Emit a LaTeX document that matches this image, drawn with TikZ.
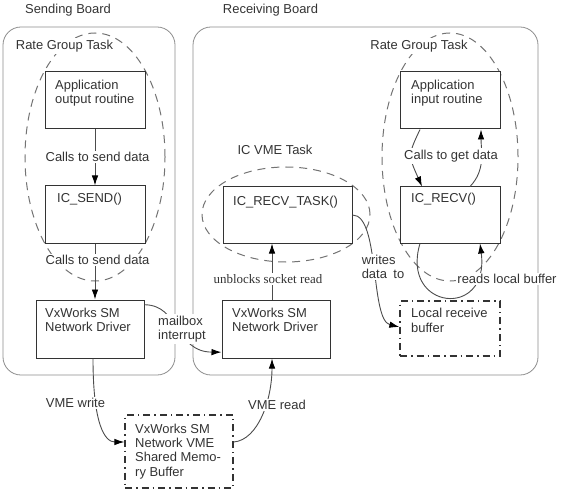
\documentclass[tikz,border=0pt]{standalone}
\usepackage{fontspec}
\setmainfont{Liberation Sans}
\newfontfamily\serifjob{Liberation Serif}
\usetikzlibrary{arrows.meta,shapes.geometric}
\begin{document}
\begin{tikzpicture}[x=1bp,y=-1bp,
  every node/.style={font=\fontsize{13}{14.5}\selectfont, text=black!80},
  board/.style={draw=black!45, line width=0.8bp, rounded corners=18bp, inner sep=0pt},
  boxn/.style={draw=black!80, line width=1bp, fill=white, inner sep=0pt},
  ddbox/.style={draw=black!80, line width=1.3bp, inner sep=0pt, dash pattern=on 7bp off 4bp on 1.5bp off 4bp},
  dashell/.style={draw=black!55, line width=1bp, ellipse, dash pattern=on 8bp off 6bp, inner sep=0pt},
  txt/.style={anchor=north west, inner sep=0pt, align=left},
  lbl/.style={fill=white, inner sep=1.5bp, align=left},
  conn/.style={draw=black!70, line width=0.9bp},
  arr/.style={conn, -{Latex[length=10bp,width=6.5bp,color=black]}},
]
\useasboundingbox (0,0) rectangle (561,493);

% titles
\node (sbt) at (68,10) {Sending Board};
\node (rbt) at (270.5,10) {Receiving Board};

% boards
\node[board, minimum width=172bp, minimum height=348bp] (SBoard) at (89,201) {};
\node[board, minimum width=345bp, minimum height=348bp] (RBoard) at (365.5,201) {};

% task ellipses
\node[dashell, minimum width=140bp, minimum height=248bp] (LEll) at (95,157) {};
\node[dashell, minimum width=136bp, minimum height=248bp] (REll) at (450,157) {};
\node[dashell, minimum width=168bp, minimum height=95bp] (VEll) at (286,214.5) {};

% boxes
\node[boxn, minimum width=100bp, minimum height=57bp] (AOR) at (95,100.5) {};
\node[boxn, minimum width=100bp, minimum height=57bp] (ICS) at (95,214.5) {};
\node[boxn, minimum width=108bp, minimum height=58bp] (LD) at (90,329) {};
\node[boxn, minimum width=108bp, minimum height=58bp] (RD) at (276,329) {};
\node[boxn, minimum width=129bp, minimum height=56bp] (ICRT) at (287.5,215) {};
\node[boxn, minimum width=100bp, minimum height=57bp] (AIR) at (450,100.5) {};
\node[boxn, minimum width=100bp, minimum height=56bp] (ICR) at (450,215) {};
\node[ddbox, minimum width=100bp, minimum height=55bp] (LRB) at (450,328.5) {};
\node[ddbox, minimum width=108bp, minimum height=73bp] (SM) at (179,451.5) {};

% box texts
\node[txt] (tAOR) at (55,79.5) {Application\\output routine};
\node[txt] (tICS) at (57,192.5) {IC\_SEND()};
\node[txt] (tLD) at (45,307.5) {VxWorks SM\\Network Driver};
\node[txt] (tRD) at (232,307.5) {VxWorks SM\\Network Driver};
\node[txt] (tICRT) at (233,195.5) {IC\_RECV\_TASK()};
\node[txt] (tAIR) at (411,79.5) {Application\\input routine};
\node[txt] (tICR) at (411,193) {IC\_RECV()};
\node[txt] (tLRB) at (411,308) {Local receive\\buffer};
\node[txt] (tSM) at (135,423.5) {VxWorks SM\\Network VME\\Shared Memo-\\ry Buffer};

% connectors
\draw[arr] (AOR.south) -- (ICS.north);
\draw[arr] (ICS.south) -- (ICS.south |- LD.north);
\draw[arr] (LD.24) .. controls (180,305) and (175,352) .. (RD.203);
\draw[arr] ([xshift=-4bp]RD.north) -- ([xshift=-4bp]RD.north |- ICRT.south);
\draw[arr] (ICRT.east) .. controls (380,215) and (370,320) .. ([yshift=1.5bp]LRB.west);
\draw[arr] ([xshift=-30bp]AIR.south) .. controls (408,155) .. ([xshift=-28bp]ICR.north);
\draw[arr] ([xshift=20bp]ICR.north) .. controls (486,170) and (481,150) .. ([xshift=31bp]AIR.south);
\draw[arr] ([xshift=-30bp]ICR.south) .. controls (400,310) and (490,320) .. ([xshift=30bp]ICR.south);
\draw[arr] ([xshift=3bp]LD.south) .. controls (93,425) and (105,442) .. ([yshift=9.5bp]SM.west);
\draw[arr] ([yshift=9.5bp]SM.east) .. controls (258,440) and (272,400) .. ([xshift=-4bp]RD.south);

% labels
\node[lbl] (lrg) at (64.5,46) {Rate Group Task};
\node[lbl] (rrg) at (419,46) {Rate Group Task};
\node (vmet) at (275,150) {IC VME Task};
\node[lbl] (cs1) at (97.5,157) {Calls to send data};
\node[lbl] (cs2) at (97.5,260) {Calls to send data};
\node[lbl] (cg) at (451,156) {Calls to get data};
\node[lbl] (mb) at (182,329) {mailbox\\interrupt};
\node[lbl, font=\serifjob\fontsize{13}{14.5}\selectfont] (ub) at (268,279) {unblocks socket read};
\node[lbl] (wd) at (383,267) {writes\\data\enspace to};
\node[lbl] (rl) at (507,279) {reads local buffer};
\node[lbl] (vw) at (75.5,403) {VME write};
\node[lbl] (vr) at (277,405) {VME read};
\end{tikzpicture}
\end{document}
